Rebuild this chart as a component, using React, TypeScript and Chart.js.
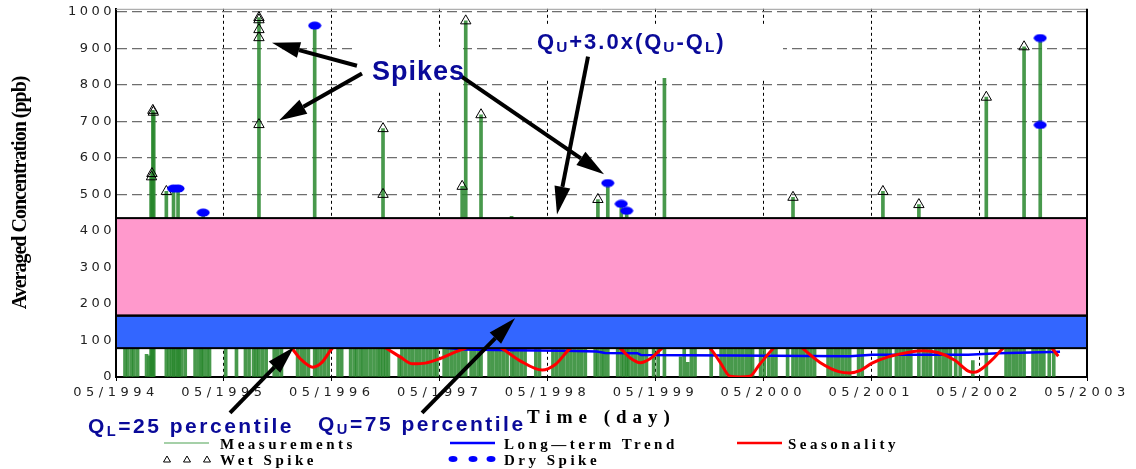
import React, { useEffect, useRef } from "react";
import { Chart, registerables } from "chart.js";

Chart.register(...registerables);

// ---------- DATA ----------
// x values are months since 05/1994
const xTickLabels = ["05/1994", "05/1995", "05/1996", "05/1997", "05/1998", "05/1999", "05/2000", "05/2001", "05/2002", "05/2003"];
const yTickValues = [0, 100, 200, 300, 400, 500, 600, 700, 800, 900, 1000];

// [month, concentration]
const measurements: [number, number][] = [
  [1.0, 150], [1.3, 210], [1.7, 130], [2.0, 180], [2.4, 95],
  [3.4, 62], [3.7, 58],
  [5.9, 140], [6.2, 260], [6.6, 190], [7.0, 120], [7.3, 170], [7.7, 230],
  [8.8, 160], [9.2, 110], [9.5, 200], [10.1, 140], [10.4, 90],
  [12.2, 130], [13.4, 180], [14.4, 120], [14.8, 150],
  [15.3, 200], [15.6, 140], [16.3, 110], [16.7, 170],
  [17.6, 130], [18.0, 220], [18.4, 160],
  [20.2, 150], [20.6, 190], [21.0, 120], [21.4, 240],
  [22.4, 170], [22.8, 130], [23.2, 210], [23.6, 150],
  [24.7, 120], [25.1, 180], [26.1, 140], [26.5, 210], [26.8, 110],
  [27.2, 160], [27.5, 120], [27.9, 230], [28.3, 150], [28.7, 190], [29.1, 120], [29.4, 170], [30.0, 140], [30.3, 200],
  [31.5, 60], [31.8, 150], [32.2, 210], [32.6, 170], [33.0, 120], [33.4, 260], [33.8, 140], [34.2, 190], [34.6, 110], [35.0, 230], [35.4, 150], [35.7, 180],
  [36.5, 140], [36.9, 200], [37.3, 120], [37.7, 170], [38.1, 230],
  [39.5, 150], [39.9, 190], [40.3, 130],
  [41.5, 170], [41.9, 120], [42.3, 210], [42.7, 150], [43.1, 190], [43.5, 130], [44.3, 170], [44.7, 220], [45.1, 140], [45.5, 180],
  [46.7, 150], [47.1, 110],
  [48.6, 190], [49.0, 140], [49.4, 220], [49.8, 120], [50.2, 170], [50.6, 250], [51.0, 150], [51.4, 200], [51.8, 130], [52.2, 180],
  [53.3, 150], [54.0, 120], [54.3, 190],
  [55.8, 160], [56.5, 130], [57.0, 210], [57.4, 150], [57.8, 190], [58.2, 120], [58.6, 240], [59.0, 140],
  [59.8, 170], [60.3, 130],
  [62.8, 55], [63.2, 140], [63.6, 40], [64.0, 160], [64.4, 120],
  [66.2, 110],
  [67.3, 160], [67.7, 210], [68.1, 130], [68.5, 190], [68.9, 150], [69.3, 240], [69.7, 120], [70.1, 180], [70.5, 140], [70.8, 200],
  [71.7, 150], [72.1, 120], [72.6, 60], [73.0, 170], [73.4, 130],
  [74.7, 190], [75.7, 140], [76.1, 210], [76.5, 120], [76.9, 170], [77.3, 250], [77.7, 150],
  [79.2, 130], [79.6, 190], [80.0, 150], [80.4, 220], [80.8, 120], [81.2, 170], [81.6, 140],
  [82.6, 150], [83.0, 110],
  [84.9, 180], [85.7, 140], [86.1, 200],
  [86.8, 130], [87.2, 170], [87.6, 220], [88.0, 150], [88.4, 120],
  [89.8, 190], [90.2, 140], [90.6, 160], [91.2, 210], [91.6, 130], [92.0, 180], [92.4, 150], [92.8, 230],
  [93.4, 120], [93.9, 170], [95.3, 45],
  [99.0, 150], [99.4, 210], [99.8, 130], [100.2, 190], [100.6, 240],
  [102.0, 160], [102.4, 120], [103.2, 180], [103.8, 140], [104.3, 170],
  // tall measurements (spikes)
  [3.9, 548], [4.0, 557], [4.1, 730], [4.2, 725], [5.6, 508], [6.4, 516], [6.9, 516], [9.7, 450],
  [15.9, 984], [22.1, 962], [29.7, 680], [38.5, 522], [38.9, 975], [40.6, 718], [44.0, 440],
  [53.6, 486], [54.7, 531], [56.2, 474], [56.8, 455], [61.0, 850], [75.3, 492], [85.3, 508],
  [89.3, 472], [96.8, 766], [101.0, 904], [102.8, 928],
];

const wetSpikes: [number, number][] = [
  [4.1, 730], [4.15, 725], [4.0, 557], [3.95, 548], [5.6, 508],
  [15.9, 984], [15.9, 978], [15.9, 951], [15.9, 929], [15.9, 691],
  [29.7, 680], [29.7, 500], [38.5, 522], [38.9, 975], [40.6, 718],
  [53.6, 486], [75.3, 492], [85.3, 508], [89.3, 472], [96.8, 766], [101.0, 904],
];

const drySpikes: [number, number][] = [
  [6.4, 516], [6.9, 516], [9.7, 450], [22.1, 962], [54.7, 531], [56.2, 474], [56.8, 455], [102.8, 928], [102.8, 690],
];

const longTermTrend: [number, number][] = [
  [0, 115], [12, 100], [24, 90], [33, 84], [36.5, 80], [38.8, 75], [44, 73], [49.9, 72], [53.5, 70], [54.4, 66],
  [58.0, 65], [58.4, 60], [68.6, 59], [81.6, 57], [84.1, 61], [94.8, 61], [98.1, 65], [101.7, 67], [105.0, 69],
];

const seasonality: [number, number][] = [
  [0, 170], [8, 150], [14, 120], [19.0, 90], [19.6, 77], [20.5, 50], [21.9, 27], [22.9, 40], [24.0, 77], [25.5, 105],
  [28.5, 100], [30.1, 78], [31.6, 55], [33.0, 36], [34.4, 38], [36.0, 50], [37.7, 68], [38.8, 78], [40.8, 100],
  [42.9, 78], [44.9, 45], [47.4, 19], [48.9, 35], [50.5, 78], [53.2, 115], [56.1, 78], [57.2, 52], [58.3, 39],
  [59.4, 50], [60.7, 78], [63.4, 125], [66.1, 78], [67.2, 40], [68.3, 2], [69.4, 0], [70.5, 2], [71.6, 35],
  [73.1, 78], [74.8, 115], [76.4, 78], [78.3, 40], [80.5, 14], [81.6, 11], [82.8, 18], [84.1, 38], [85.9, 55],
  [88.5, 69], [89.7, 72], [91.4, 67], [93.3, 46], [94.8, 16], [95.4, 13], [95.9, 16], [97.4, 46], [98.6, 77],
  [101.3, 120], [104.1, 78], [104.8, 57],
];

const Q_L = 79; // 25 percentile
const Q_U = 168; // 75 percentile
const SPIKE_LIMIT = Q_U + 3.0 * (Q_U - Q_L);

// annotation arrows in data coordinates: [fromMonth, fromValue, toMonth, toValue]
const arrows: [number, number, number, number][] = [
  [26.8, 852, 17.35, 915],
  [27.36, 831, 18.13, 702],
  [38.27, 825, 54.28, 555],
  [52.5, 877, 49.05, 445],
  [12.68, -98, 19.8, 82],
  [34.04, -98, 44.38, 161],
];

const toXY = (arr: [number, number][]) => arr.map(([x, y]) => ({ x, y }));

function drawArrow(ctx: CanvasRenderingContext2D, x1: number, y1: number, x2: number, y2: number) {
  const ang = Math.atan2(y2 - y1, x2 - x1);
  const L = 28, W = 8;
  const bx = x2 - L * Math.cos(ang);
  const by = y2 - L * Math.sin(ang);
  ctx.save();
  ctx.strokeStyle = "#000";
  ctx.fillStyle = "#000";
  ctx.lineWidth = 4;
  ctx.beginPath();
  ctx.moveTo(x1, y1);
  ctx.lineTo(bx, by);
  ctx.stroke();
  ctx.beginPath();
  ctx.moveTo(x2, y2);
  ctx.lineTo(bx + W * Math.sin(ang), by - W * Math.cos(ang));
  ctx.lineTo(bx - W * Math.sin(ang), by + W * Math.cos(ang));
  ctx.closePath();
  ctx.fill();
  ctx.restore();
}

const spacingPlugin = {
  id: "letterSpacing",
  beforeDraw(chart: any) {
    const patch = (scale: any, labelSp: string, titleSp: string) => {
      if (!scale || scale.__patched) return;
      scale.__patched = true;
      const dl = scale.drawLabels;
      const dt = scale.drawTitle;
      scale.drawLabels = function (...a: any[]) {
        const c = this.ctx; const p = c.letterSpacing; c.letterSpacing = labelSp; dl.apply(this, a); c.letterSpacing = p ?? "0px";
      };
      scale.drawTitle = function (...a: any[]) {
        const c = this.ctx; const p = c.letterSpacing; c.letterSpacing = titleSp; dt.apply(this, a); c.letterSpacing = p ?? "0px";
      };
    };
    patch(chart.scales.x, "4.5px", "6px");
    patch(chart.scales.y, "3.5px", "-1px");
  },
};

const overlayPlugin = {
  id: "overlay",
  afterDatasetsDraw(chart: any) {
    const { ctx, chartArea: a, scales } = chart;
    const y = scales.y, x = scales.x;
    const yTop = y.getPixelForValue(SPIKE_LIMIT);
    const yU = y.getPixelForValue(Q_U);
    const yL = y.getPixelForValue(Q_L);
    ctx.save();
    ctx.fillStyle = "#ff99cc";
    ctx.fillRect(a.left, yTop, a.right - a.left, yU - yTop);
    ctx.fillStyle = "#3366ff";
    ctx.fillRect(a.left, yU, a.right - a.left, yL - yU);
    ctx.strokeStyle = "#000";
    ctx.lineWidth = 2;
    ctx.strokeRect(a.left, yTop, a.right - a.left, yU - yTop);
    ctx.strokeRect(a.left, yU, a.right - a.left, yL - yU);
    // white label backgrounds
    ctx.fillStyle = "#ffffff";
    ctx.fillRect(357, 47, 106, 44);
    ctx.fillRect(533, 25, 250, 53);
    // frame
    ctx.strokeStyle = "#9a9a9a";
    ctx.lineWidth = 1;
    ctx.beginPath();
    ctx.moveTo(a.left, a.top + 0.5);
    ctx.lineTo(a.right, a.top + 0.5);
    ctx.stroke();
    ctx.strokeStyle = "#000";
    ctx.lineWidth = 2;
    ctx.beginPath();
    ctx.moveTo(a.right, a.top);
    ctx.lineTo(a.right, a.bottom);
    ctx.stroke();
    ctx.restore();
    for (const [m1, v1, m2, v2] of arrows) {
      drawArrow(ctx, x.getPixelForValue(m1), y.getPixelForValue(v1), x.getPixelForValue(m2), y.getPixelForValue(v2));
    }
  },
};

const annColor = "#0a0a99";
const annBase: React.CSSProperties = {
  position: "absolute",
  color: annColor,
  fontFamily: '"Liberation Sans", Arial, sans-serif',
  fontWeight: "bold",
  whiteSpace: "nowrap",
  pointerEvents: "none",
};
const sub: React.CSSProperties = { fontSize: "0.7em", verticalAlign: "-0.2em" };

const legText: React.CSSProperties = {
  position: "absolute",
  fontFamily: '"Liberation Serif", "Times New Roman", serif',
  fontWeight: "bold",
  fontSize: 15,
  lineHeight: "15px",
  letterSpacing: "3.5px",
  color: "#000",
  whiteSpace: "nowrap",
};

export default function App() {
  const canvasRef = useRef<HTMLCanvasElement | null>(null);

  useEffect(() => {
    const canvas = canvasRef.current;
    if (!canvas) return;
    const ell = document.createElement("canvas");
    ell.width = 14;
    ell.height = 9;
    const ec = ell.getContext("2d")!;
    ec.fillStyle = "#0000ff";
    ec.beginPath();
    ec.ellipse(7, 4.5, 6.5, 4, 0, 0, Math.PI * 2);
    ec.fill();

    const chart = new Chart(canvas, {
      type: "scatter",
      data: {
        datasets: [
          {
            type: "bar",
            label: "Measurements",
            data: toXY(measurements),
            backgroundColor: "rgba(40,135,45,0.85)",
            barThickness: 3,
            order: 5,
          } as any,
          {
            type: "line",
            label: "Long—term Trend",
            data: toXY(longTermTrend),
            borderColor: "#0000ff",
            borderWidth: 2.5,
            pointRadius: 0,
            order: 4,
          },
          {
            type: "line",
            label: "Seasonality",
            data: toXY(seasonality),
            borderColor: "#ff0000",
            borderWidth: 3,
            pointRadius: 0,
            cubicInterpolationMode: "monotone",
            order: 3,
          },
          {
            type: "scatter",
            label: "Wet Spike",
            data: toXY(wetSpikes),
            pointStyle: "triangle",
            pointRadius: 6,
            borderColor: "#000",
            borderWidth: 1,
            backgroundColor: "rgba(0,0,0,0)",
            order: 2,
          },
          {
            type: "scatter",
            label: "Dry Spike",
            data: toXY(drySpikes),
            pointStyle: ell,
            order: 1,
          } as any,
        ],
      },
      options: {
        responsive: false,
        maintainAspectRatio: false,
        animation: false,
        layout: { padding: { left: 0, right: 49, top: 8, bottom: 40 } },
        plugins: { legend: { display: false }, tooltip: { enabled: false } },
        scales: {
          x: {
            type: "linear",
            min: 0,
            max: 108,
            offset: false,
            afterBuildTicks: (s: any) => {
              s.ticks = xTickLabels.map((_, i) => ({ value: i * 12 }));
            },
            afterFit: (s: any) => {
              s.height = 52;
            },
            ticks: {
              autoSkip: false,
              maxRotation: 0,
              padding: 4,
              color: "#222",
              font: { family: '"DejaVu Sans", sans-serif', size: 13 },
              callback: (v: any) => xTickLabels[Math.round(Number(v) / 12)] ?? "",
            },
            grid: {
              offset: false,
              color: (c: any) => (c.tick && (c.tick.value === 0 || c.tick.value === 108) ? "rgba(0,0,0,0)" : "#000"),
              lineWidth: 1,
              tickLength: 4,
              tickColor: "#000",
            },
            border: { color: "#000", width: 2, dash: [3, 3] },
            title: {
              display: true,
              text: "Time (day)",
              color: "#000",
              font: { family: '"Liberation Serif", "Times New Roman", serif', size: 19, weight: "bold" },
              padding: { top: 0, bottom: 0 },
            },
          } as any,
          y: {
            type: "linear",
            min: 0,
            max: 1008,
            afterBuildTicks: (s: any) => {
              s.ticks = yTickValues.map((v) => ({ value: v }));
            },
            afterFit: (s: any) => {
              s.width = 116;
            },
            ticks: {
              padding: 1,
              color: "#222",
              font: { family: '"DejaVu Sans", sans-serif', size: 13 },
              callback: (v: any) => String(v),
            },
            grid: {
              color: "#6e6e6e",
              lineWidth: 1.2,
              drawTicks: false,
            },
            border: { color: "#000", width: 2, dash: [10, 5] },
            title: {
              display: true,
              text: "Averaged Concentration (ppb)",
              color: "#000",
              font: { family: '"Liberation Serif", "Times New Roman", serif', size: 20, weight: "bold" },
              padding: { top: 9, bottom: 0 },
            },
          } as any,
        },
      },
      plugins: [spacingPlugin, overlayPlugin],
    });
    return () => chart.destroy();
  }, []);

  return (
    <div style={{ position: "absolute", left: 0, top: 0, width: 1136, height: 469, background: "#fff", overflow: "hidden" }}>
      <canvas ref={canvasRef} width={1136} height={469} style={{ position: "absolute", left: 0, top: 0 }} />

      <div style={{ ...annBase, left: 372, top: 58, fontSize: 27, lineHeight: "27px", letterSpacing: "1px" }}>Spikes</div>
      <div style={{ ...annBase, left: 537, top: 31, fontSize: 22, lineHeight: "22px", letterSpacing: "2px" }}>
        Q<span style={sub}>U</span>+3.0x(Q<span style={sub}>U</span>-Q<span style={sub}>L</span>)
      </div>
      <div style={{ ...annBase, left: 88, top: 415, fontSize: 21, lineHeight: "21px", letterSpacing: "2.5px" }}>
        Q<span style={sub}>L</span>=25 percentile
      </div>
      <div style={{ ...annBase, left: 318, top: 413, fontSize: 21, lineHeight: "21px", letterSpacing: "2.5px" }}>
        Q<span style={sub}>U</span>=75 percentile
      </div>

      <svg width={1136} height={469} style={{ position: "absolute", left: 0, top: 0, pointerEvents: "none" }}>
        <line x1={164} y1={443} x2={209} y2={443} stroke="#a5d0a8" strokeWidth={2} />
        <line x1={450} y1={443} x2={495} y2={443} stroke="#0000ff" strokeWidth={2.5} />
        <line x1={737} y1={443} x2={782} y2={443} stroke="#ff0000" strokeWidth={2.5} />
        {[167, 187, 207].map((cx) => (
          <polygon key={cx} points={`${cx - 3.5},462 ${cx + 3.5},462 ${cx},456`} fill="none" stroke="#000" strokeWidth={1} />
        ))}
        {[453, 473, 491].map((cx) => (
          <ellipse key={cx} cx={cx} cy={459} rx={4.5} ry={3} fill="#0000ff" />
        ))}
      </svg>
      <div style={{ ...legText, left: 220, top: 437 }}>Measurements</div>
      <div style={{ ...legText, left: 504, top: 437 }}>Long—term Trend</div>
      <div style={{ ...legText, left: 788, top: 437 }}>Seasonality</div>
      <div style={{ ...legText, left: 220, top: 453 }}>Wet Spike</div>
      <div style={{ ...legText, left: 504, top: 453 }}>Dry Spike</div>
    </div>
  );
}
